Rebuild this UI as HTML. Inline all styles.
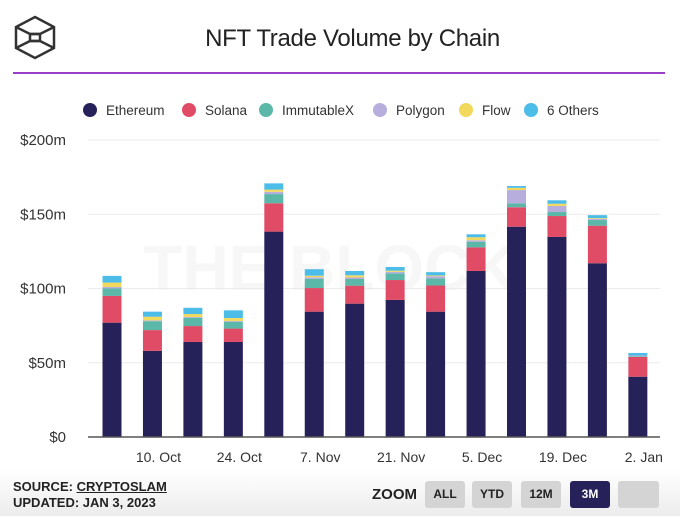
<!DOCTYPE html>
<html><head><meta charset="utf-8"><style>
body{margin:0;width:680px;height:516px;background:#fff;font-family:"Liberation Sans",sans-serif;overflow:hidden;position:relative}
.foot{position:absolute;left:0;top:470px;width:680px;height:46px;background:linear-gradient(#fff,#ececec)}
.btn{position:absolute;top:481px;width:40px;height:27px;background:#d4d4d4;border-radius:3px;font-size:12px;font-weight:bold;color:#222;text-align:center;line-height:27px}
</style></head><body>
<div class="foot"></div>
<svg style="position:absolute;left:12px;top:14px" width="46" height="46" viewBox="0 0 46 46">
<g fill="none" stroke="#333" stroke-width="2.5"><polygon points="23,3 42,13 42,34 23,44 4,34 4,13"/><polyline points="4,13 18,20 28,20 42,13"/><polyline points="4,34 18,27 28,27 42,34"/><rect x="18" y="20" width="10" height="7"/></g></svg>
<div style="position:absolute;left:0;width:705px;top:25px;text-align:center;font-size:24px;color:#222;letter-spacing:-0.3px">NFT Trade Volume by Chain</div>
<div style="position:absolute;left:13px;top:72px;width:652px;height:2px;background:#9b3fc8"></div>
<svg id="chart" width="680" height="516" style="position:absolute;left:0;top:0"></svg>
<div style="position:absolute;left:13px;top:479px;font-size:13px;font-weight:bold;color:#222">SOURCE: <span style="text-decoration:underline">CRYPTOSLAM</span></div>
<div style="position:absolute;left:13px;top:495px;font-size:13px;font-weight:bold;color:#222">UPDATED: JAN 3, 2023</div>
<div style="position:absolute;left:372px;top:486px;font-size:15px;font-weight:bold;color:#222">ZOOM</div>
<div class="btn" style="left:425px">ALL</div>
<div class="btn" style="left:472px">YTD</div>
<div class="btn" style="left:521px">12M</div>
<div class="btn" style="left:570px;background:#27215a;color:#fff">3M</div>
<div class="btn" style="left:618px;width:41px"></div>
<script>
const seriesNames=["Ethereum","Solana","ImmutableX","Polygon","Flow","6 Others"];
const seriesColors=["#27215a","#e04c66","#5bb8a8","#b7aedd","#f2d95c","#4cbde9"];
const ethereum=[77,58,64,64,138.3,84.4,89.8,92.3,84.4,111.8,141.6,134.7,117,40.6];
const solana=[18,14,10.7,9,19.1,15.9,12.1,13.4,17.6,15.9,13.1,14.1,25.3,13.3];
const immutablex=[5,6,5.6,4.6,6.2,6.3,4.5,4.5,4.8,3.8,2.7,2.7,3.8,0.5];
const polygon=[1,0.5,0.5,0.5,1.5,1,1,1,1.5,1,8.9,4.1,0.8,0.5];
const flow=[3,2.5,2,2,1.5,1,1.5,0.8,0.5,2,1.5,1.5,0.5,0];
const others=[4.5,3.4,4.2,5.2,4.2,4.4,2.9,2.5,2.2,2,1.2,2.3,2,1.7];
const xLabels=["10. Oct","24. Oct","7. Nov","21. Nov","5. Dec","19. Dec","2. Jan"];
const yTicks=[0,50,100,150,200];
const yTickLabels=["$0","$50m","$100m","$150m","$200m"];
const series=[ethereum,solana,immutablex,polygon,flow,others];
const NS="http://www.w3.org/2000/svg",svg=document.getElementById("chart");
const y=v=>437-v*1.485, x=i=>112+i*40.45;
function mk(t,a){const e=document.createElementNS(NS,t);for(const k in a)e.setAttribute(k,a[k]);svg.appendChild(e);return e;}
let wm=mk("text",{x:330,y:290,"font-size":64,"font-weight":"bold",fill:"#f7f7f7","text-anchor":"middle"});


wm.textContent="THE BLOCK";
yTicks.forEach((v,i)=>{
 if(v>0){let g=mk("line",{x1:88,x2:660,y1:y(v),y2:y(v),stroke:"#ebebeb","stroke-width":1});
 
 }
 let t=mk("text",{x:66,y:y(v)+5,"font-size":15,fill:"#333","text-anchor":"end"});
 
 
 t.textContent=yTickLabels[i];
});
ethereum.forEach((_,i)=>{
 let base=0;
 series.forEach((s,k)=>{
  const v=s[i]; if(v<=0)return;
  let r=mk("rect",{x:x(i)-9.5,y:y(base+v),width:19,height:v*1.485,fill:seriesColors[k]});
  
  
  base+=v;
 });
});
let ax=mk("line",{x1:88,x2:660,y1:437,y2:437,stroke:"#555","stroke-width":1.5});


xLabels.forEach((l,k)=>{
 let t=mk("text",{x:x(1+2*k)+6,y:462,"font-size":14,fill:"#333","text-anchor":"middle"});
 
 
 t.textContent=l;
});
const lx=[90,189,266,380,466,531];
seriesNames.forEach((n,k)=>{
 let c=mk("circle",{cx:lx[k],cy:110,r:7,fill:seriesColors[k]});
 
 
 let t=mk("text",{x:lx[k]+16,y:115,"font-size":13.5,fill:"#333"});
 
 
 t.textContent=n;
});
</script>
</body></html>
